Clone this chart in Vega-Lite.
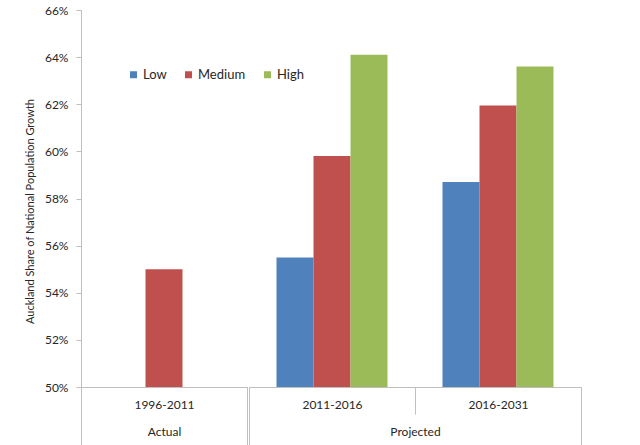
{
  "$schema": "https://vega.github.io/schema/vega-lite/v6.json",
  "padding": {"left": 24, "top": 4, "right": 10, "bottom": 0},
  "config": {
    "view": {"stroke": null},
    "font": "Lato",
    "concat": {"spacing": 0},
    "axis": {"domainColor": "#bfbfbf", "tickColor": "#bfbfbf", "labelColor": "#262626", "titleColor": "#262626", "grid": false}
  },
  "data": {
    "values": [
      {"period": "1996-2011", "scenario": "Medium", "group": "Actual", "share": 0.55},
      {"period": "2011-2016", "scenario": "Low", "group": "Projected", "share": 0.555},
      {"period": "2011-2016", "scenario": "Medium", "group": "Projected", "share": 0.598},
      {"period": "2011-2016", "scenario": "High", "group": "Projected", "share": 0.641},
      {"period": "2016-2031", "scenario": "Low", "group": "Projected", "share": 0.587},
      {"period": "2016-2031", "scenario": "Medium", "group": "Projected", "share": 0.6195},
      {"period": "2016-2031", "scenario": "High", "group": "Projected", "share": 0.636}
    ]
  },
  "resolve": {"scale": {"y": "shared", "color": "shared"}},
  "hconcat": [
    {
      "width": 166,
      "height": 377,
      "transform": [{"filter": "datum.group === 'Actual'"}],
      "layer": [
        {
          "mark": {"type": "bar", "clip": true},
          "encoding": {
            "x": {
              "field": "period", "type": "nominal",
              "scale": {"type": "band", "paddingInner": 0, "paddingOuter": 0},
              "axis": {"title": null, "orient": "bottom", "tickBand": "extent", "tickSize": 27, "labelPadding": -15, "labelAngle": 0, "labelFontSize": 12}
            },
            "xOffset": {
              "field": "scenario", "type": "nominal",
              "scale": {"domain": ["Low", "Medium", "High"], "paddingInner": 0, "paddingOuter": 0.743}
            },
            "y": {
              "field": "share", "type": "quantitative",
              "scale": {"domain": [0.5, 0.66], "nice": false, "zero": false},
              "axis": {
                "title": "Auckland Share of National Population Growth",
                "format": ".0%",
                "values": [0.5, 0.52, 0.54, 0.56, 0.58, 0.6, 0.62, 0.64, 0.66],
                "tickSize": 5, "labelPadding": 8, "labelFontSize": 12,
                "titleFontSize": 11, "titleFontWeight": "normal", "titlePadding": 9, "titleY": 201
              }
            },
            "color": {
              "field": "scenario", "type": "nominal",
              "scale": {"domain": ["Low", "Medium", "High"], "range": ["#4F81BD", "#C0504D", "#9BBB59"]},
              "legend": {
                "title": null, "orient": "none", "direction": "horizontal", "legendX": 46, "legendY": 58,
                "symbolType": "square", "symbolSize": 49, "symbolStrokeWidth": 0, "labelFontSize": 13,
                "labelOffset": 3, "columnPadding": 15, "padding": 0, "labelColor": "#262626"
              }
            }
          }
        },
        {
          "mark": {"type": "point", "opacity": 0},
          "encoding": {
            "x": {
              "field": "group", "type": "nominal",
              "scale": {"type": "band", "paddingInner": 0, "paddingOuter": 0},
              "axis": {"title": null, "orient": "bottom", "domain": false, "tickBand": "extent", "tickSize": 58, "labelPadding": -19, "labelAngle": 0, "labelFontSize": 12}
            }
          }
        }
      ],
      "resolve": {"scale": {"x": "independent"}, "axis": {"x": "independent"}}
    },
    {
      "width": 332,
      "height": 377,
      "transform": [{"filter": "datum.group === 'Projected'"}],
      "layer": [
        {
          "mark": {"type": "bar", "clip": true},
          "encoding": {
            "x": {
              "field": "period", "type": "nominal",
              "scale": {"type": "band", "paddingInner": 0, "paddingOuter": 0},
              "axis": {"title": null, "orient": "bottom", "tickBand": "extent", "tickSize": 27, "labelPadding": -15, "labelAngle": 0, "labelFontSize": 12}
            },
            "xOffset": {
              "field": "scenario", "type": "nominal",
              "scale": {"domain": ["Low", "Medium", "High"], "paddingInner": 0, "paddingOuter": 0.743}
            },
            "y": {
              "field": "share", "type": "quantitative",
              "scale": {"domain": [0.5, 0.66], "nice": false, "zero": false},
              "axis": null
            },
            "color": {
              "field": "scenario", "type": "nominal",
              "scale": {"domain": ["Low", "Medium", "High"], "range": ["#4F81BD", "#C0504D", "#9BBB59"]},
              "legend": {
                "title": null, "orient": "none", "direction": "horizontal", "legendX": 46, "legendY": 58,
                "symbolType": "square", "symbolSize": 49, "symbolStrokeWidth": 0, "labelFontSize": 13,
                "labelOffset": 3, "columnPadding": 15, "padding": 0, "labelColor": "#262626"
              }
            }
          }
        },
        {
          "mark": {"type": "point", "opacity": 0},
          "encoding": {
            "x": {
              "field": "group", "type": "nominal",
              "scale": {"type": "band", "paddingInner": 0, "paddingOuter": 0},
              "axis": {"title": null, "orient": "bottom", "domain": false, "tickBand": "extent", "tickSize": 58, "labelPadding": -19, "labelAngle": 0, "labelFontSize": 12}
            }
          }
        }
      ],
      "resolve": {"scale": {"x": "independent"}, "axis": {"x": "independent"}}
    }
  ]
}
